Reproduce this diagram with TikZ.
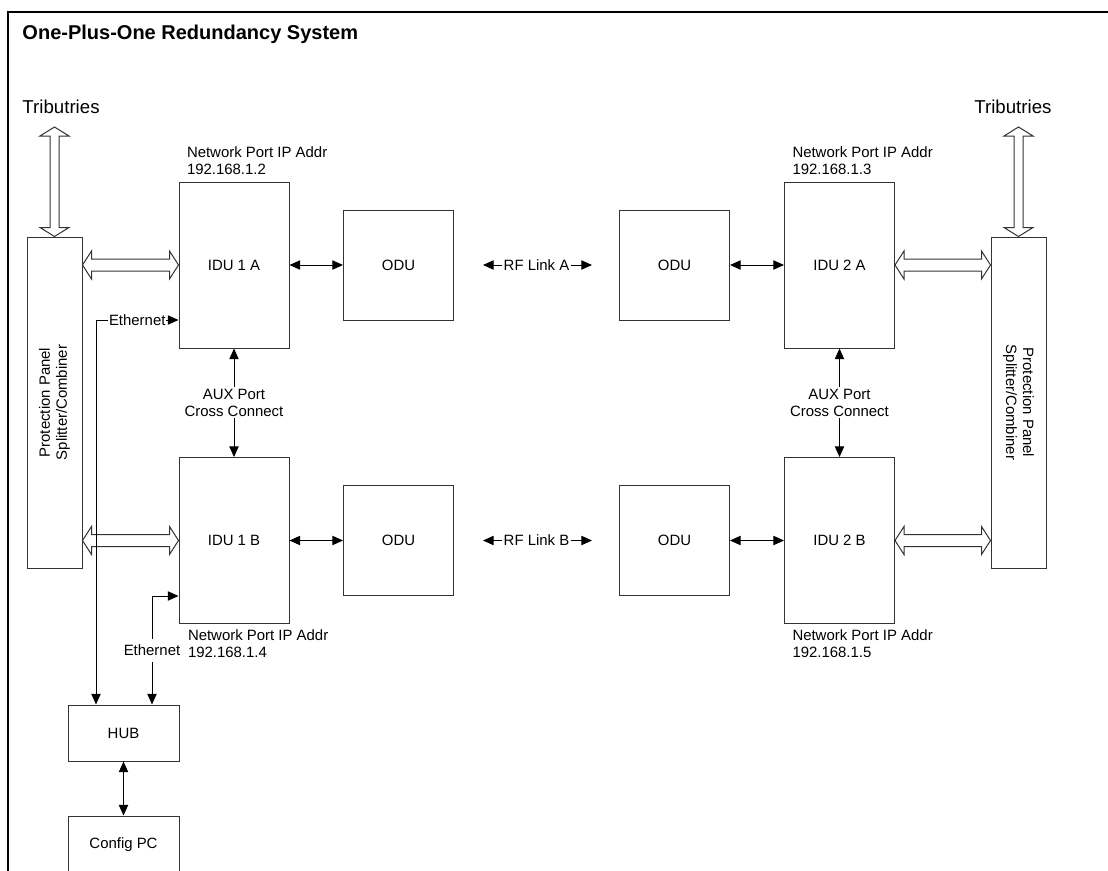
\documentclass[tikz,border=0pt]{standalone}
\usepackage{fontspec}
\setmainfont{Liberation Sans}
\usepackage{tikz}
\usetikzlibrary{arrows.meta}
\usetikzlibrary{calc}
\usetikzlibrary{positioning}

\newlength{\pxu}
\setlength{\pxu}{0.75pt}

\newcommand{\lblfont}{\fontsize{11.2pt}{12.75pt}\selectfont}
\newcommand{\tribfont}{\fontsize{14pt}{16pt}\selectfont}
\newcommand{\titlefont}{\fontsize{15pt}{17pt}\selectfont\bfseries}

% hollow block arrow, heads at both ends (left to right)
\newcommand{\hollowh}[2]{%
	\draw[hollow] (#1) -- ($(#1)+(9,-14)$) -- ($(#1)+(9,-6)$) -- ($(#2)+(-9,-6)$) -- ($(#2)+(-9,-14)$)
		-- (#2) -- ($(#2)+(-9,14)$) -- ($(#2)+(-9,6)$) -- ($(#1)+(9,6)$) -- ($(#1)+(9,14)$) -- cycle;}
% same thing, top to bottom
\newcommand{\hollowv}[2]{%
	\draw[hollow] (#1) -- ($(#1)+(14.5,9)$) -- ($(#1)+(4.5,9)$) -- ($(#2)+(4.5,-9)$) -- ($(#2)+(14.5,-9)$)
		-- (#2) -- ($(#2)+(-14.5,-9)$) -- ($(#2)+(-4.5,-9)$) -- ($(#1)+(-4.5,9)$) -- ($(#1)+(-14.5,9)$) -- cycle;}

\begin{document}
\begin{tikzpicture}[x=0.75pt,y=-0.75pt,>={Triangle[length=8pt,width=7pt]},line width=0.75pt,font=\lblfont]
						\tikzstyle{box}=[draw=black!80, inner sep=0pt, minimum width=110\pxu]
						\tikzstyle{idu}=[box, minimum height=166\pxu]
						\tikzstyle{odu}=[box, minimum height=110\pxu]
						\tikzstyle{panel}=[box, minimum width=55\pxu, minimum height=331\pxu]
						\tikzstyle{pcbox}=[box, minimum width=111\pxu]
						\tikzstyle{lbl}=[fill=white, inner sep=2\pxu]
						\tikzstyle{ipaddr}=[align=left, inner sep=0pt]
						\tikzstyle{hollow}=[draw=black!80, fill=white]
						\useasboundingbox (0,0) rectangle (1108,871);

						% frame and title
						\draw[line width=1.5pt] (8,871) -- (8,12) -- (1108,12);
						\node[anchor=base west, inner sep=0pt, font=\titlefont] (title) at (22,39) {One-Plus-One Redundancy System};

						% protection panels
						\node[panel] (pl) at (54.5,402.5) {};
						\node[panel] (pr) at (1018.5,402.5) {};
						\node[rotate=90, align=center] (pltext) at (pl) {Protection Panel\\Splitter/Combiner};
						\node[rotate=-90, align=center] (prtext) at (pr) {Protection Panel\\Splitter/Combiner};
						\node[anchor=base west, inner sep=0pt, font=\tribfont] (tribl) at (22,113) {Tributries};
						\node[anchor=base east, inner sep=0pt, font=\tribfont] (tribr) at (1052,113) {Tributries};

						% indoor and outdoor units
						\node[idu] (idu1a) at (234,265) {IDU 1 A};
						\node[idu] (idu1b) at (234,540.5) {IDU 1 B};
						\node[idu] (idu2a) at (839.5,265) {IDU 2 A};
						\node[idu] (idu2b) at (839.5,540.5) {IDU 2 B};
						\node[odu] (odu1a) at (398.5,265) {ODU};
						\node[odu] (odu1b) at (398.5,540.5) {ODU};
						\node[odu] (odu2a) at (674.5,265) {ODU};
						\node[odu] (odu2b) at (674.5,540.5) {ODU};
						\node[pcbox, minimum height=56\pxu] (hub) at (123.5,733) {HUB};
						\node[pcbox, minimum height=58\pxu] (pc) at (123.5,845) {Config PC};

						% port addresses
						\node[ipaddr, anchor=south west] (ip2) at ([xshift=8\pxu, yshift=6\pxu]idu1a.north west) {Network Port IP Addr\\192.168.1.2};
						\node[ipaddr, anchor=south west] (ip3) at ([xshift=8\pxu, yshift=6\pxu]idu2a.north west) {Network Port IP Addr\\192.168.1.3};
						\node[ipaddr, anchor=north west] (ip4) at ([xshift=9\pxu, yshift=-5\pxu]idu1b.south west) {Network Port IP Addr\\192.168.1.4};
						\node[ipaddr, anchor=north west] (ip5) at ([xshift=8\pxu, yshift=-5\pxu]idu2b.south west) {Network Port IP Addr\\192.168.1.5};

						% tributary and panel links
						\coordinate (tl) at (54.5,127);
						\coordinate (tr) at (1018.5,127);
						\coordinate (h1) at (pl.east |- idu1a.west);
						\coordinate (h2) at (pl.east |- idu1b.west);
						\coordinate (h3) at (pr.west |- idu2a.east);
						\coordinate (h4) at (pr.west |- idu2b.east);
						\hollowv{tl}{pl.north}
						\hollowv{tr}{pr.north}
						\hollowh{h1}{idu1a.west}
						\hollowh{h2}{idu1b.west}
						\hollowh{idu2a.east}{h3}
						\hollowh{idu2b.east}{h4}

						% ethernet to the hub
						\coordinate (e1) at (96,320);
						\coordinate (e2) at (152,596);
						\draw[<->] (e1 |- hub.north) -- (e1) -- node[lbl, inner xsep=1\pxu] {Ethernet} (e1 -| idu1a.west);
						\draw[<->] (e2 |- hub.north) -- node[lbl, inner ysep=6\pxu] {Ethernet} (e2) -- (e2 -| idu1b.west);

						\path[<->]
						 (idu1a) edge (odu1a)
						 (idu1b) edge (odu1b)
						 (odu2a) edge (idu2a)
						 (odu2b) edge (idu2b)
						 (hub) edge (pc)
						 (idu1a) edge node[lbl, align=center] {AUX Port\\Cross Connect} (idu1b)
						 (idu2a) edge node[lbl, align=center] {AUX Port\\Cross Connect} (idu2b);
						\path[<->, shorten >=27\pxu, shorten <=29\pxu]
						 (odu1a) edge node[lbl] {RF Link A} (odu2a)
						 (odu1b) edge node[lbl] {RF Link B} (odu2b);
\end{tikzpicture}
\end{document}
